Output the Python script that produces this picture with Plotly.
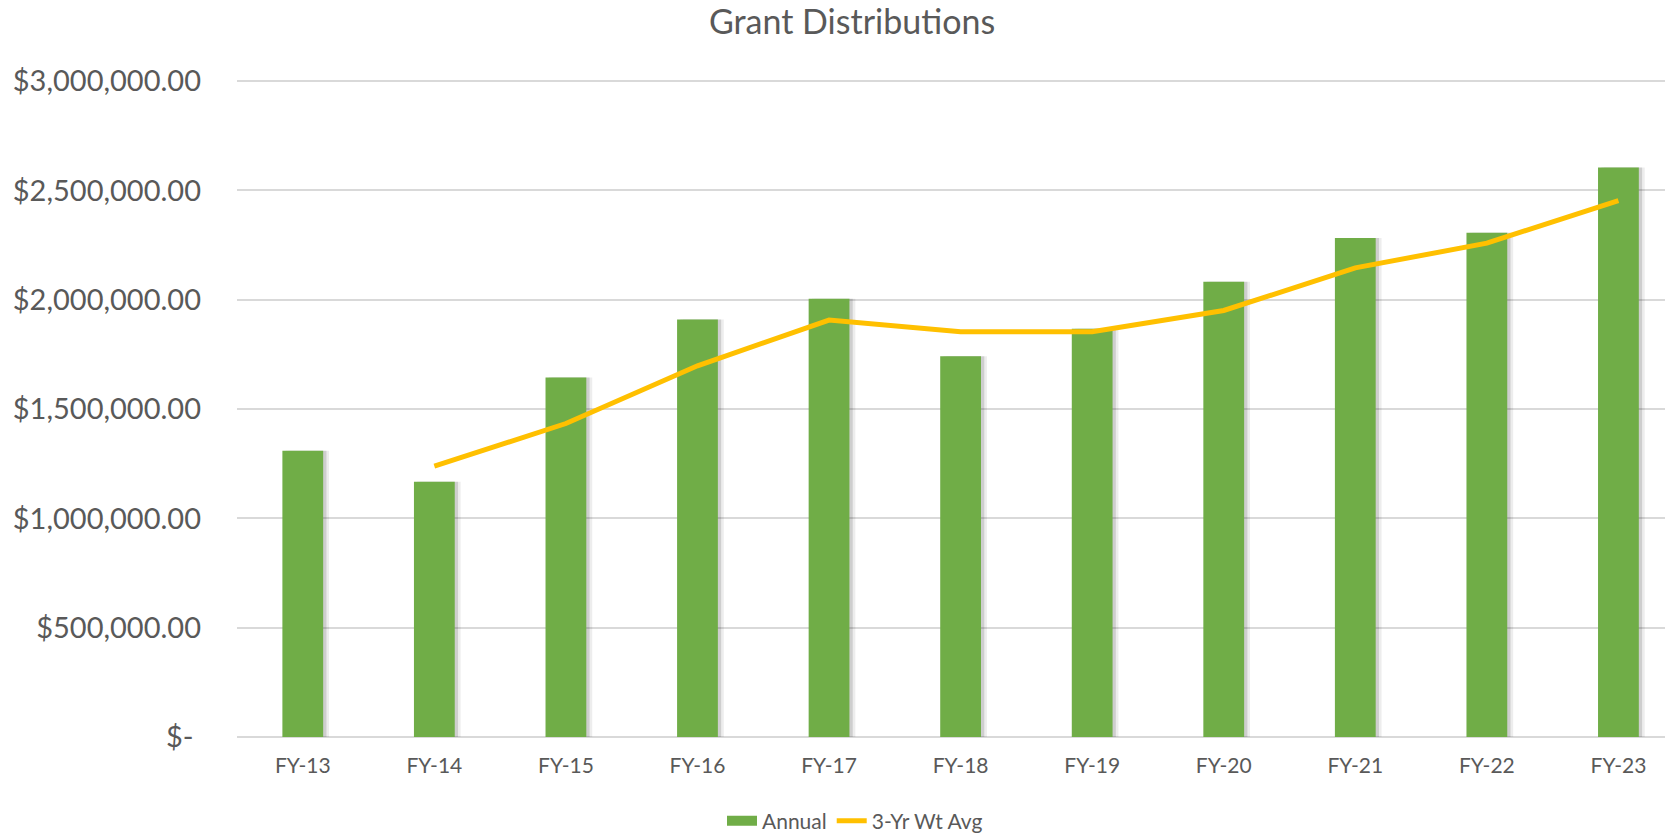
import plotly.graph_objects as go

categories = ["FY-13", "FY-14", "FY-15", "FY-16", "FY-17", "FY-18", "FY-19", "FY-20", "FY-21", "FY-22", "FY-23"]
annual = [1310000, 1168000, 1645000, 1910000, 2005000, 1742000, 1868000, 2083000, 2283000, 2307000, 2605000]
wt_avg = [None, 1239000, 1434000, 1698000, 1907000, 1854000, 1854000, 1951000, 2146000, 2259000, 2454000]
y_tickvals = [0, 500000, 1000000, 1500000, 2000000, 2500000, 3000000]
y_ticktext = ["$-\u00a0", "$500,000.00", "$1,000,000.00", "$1,500,000.00",
              "$2,000,000.00", "$2,500,000.00", "$3,000,000.00"]

FONT = "Lato, 'Open Sans', sans-serif"
TXT = "#595959"
GREEN = "#70AD47"
GOLD = "#FFC000"
xs = list(range(len(categories)))
bw = 0.31

fig = go.Figure()
# soft shadow behind bars (two layers to mimic blur)
fig.add_trace(go.Bar(x=xs, y=annual, width=bw, offset=-bw / 2 + 0.045,
                     marker=dict(color="rgba(0,0,0,0.07)", line=dict(width=0)),
                     showlegend=False, hoverinfo="skip"))
fig.add_trace(go.Bar(x=xs, y=annual, width=bw, offset=-bw / 2 + 0.025,
                     marker=dict(color="rgba(0,0,0,0.13)", line=dict(width=0)),
                     showlegend=False, hoverinfo="skip"))
fig.add_trace(go.Bar(x=xs, y=annual, width=bw, offset=-bw / 2, name="Annual",
                     legendgroup="annual", showlegend=False,
                     marker=dict(color=GREEN, line=dict(width=0))))
# legend swatch for the bars: wide green block like the original
fig.add_trace(go.Scatter(x=[None], y=[None], mode="lines", name="Annual",
                         legendgroup="annual", line=dict(color=GREEN, width=13),
                         hoverinfo="skip"))
fig.add_trace(go.Scatter(x=xs, y=wt_avg, mode="lines", name="3-Yr Wt Avg",
                         line=dict(color=GOLD, width=5), connectgaps=False))

fig.update_layout(
    width=1665, height=833,
    barmode="overlay",
    paper_bgcolor="white", plot_bgcolor="white",
    margin=dict(l=237, r=0, t=79, b=96, autoexpand=False),
    title=dict(text="Grant Distributions", x=852 / 1665, xref="container", xanchor="center",
               y=1 - 22 / 833, yref="container", yanchor="middle",
               font=dict(family=FONT, size=34, color=TXT)),
    font=dict(family=FONT, color=TXT),
    legend=dict(orientation="h", x=(855 - 237) / 1428, xanchor="center",
                y=-(821 - 737) / 658, yanchor="middle",
                font=dict(family=FONT, size=21, color=TXT), itemwidth=30,
                traceorder="normal"),
    xaxis=dict(range=[-0.5, 10.354], tickmode="array", tickvals=xs, ticktext=categories,
               showgrid=False, zeroline=False, showline=False, ticks="",
               tickfont=dict(family=FONT, size=21, color=TXT), ticklabelstandoff=14),
    yaxis=dict(range=[0, 3010000], tickmode="array", tickvals=y_tickvals, ticktext=y_ticktext,
               showgrid=True, gridcolor="#D9D9D9", gridwidth=1.5,
               zeroline=True, zerolinecolor="#D9D9D9", zerolinewidth=1.5,
               showline=False, ticks="",
               tickfont=dict(family=FONT, size=29, color=TXT), ticklabelstandoff=35),
    showlegend=True,
)

fig.write_html("out.html", config={"displayModeBar": False},
               post_script="document.body.style.margin='0';document.body.style.overflow='hidden';")
